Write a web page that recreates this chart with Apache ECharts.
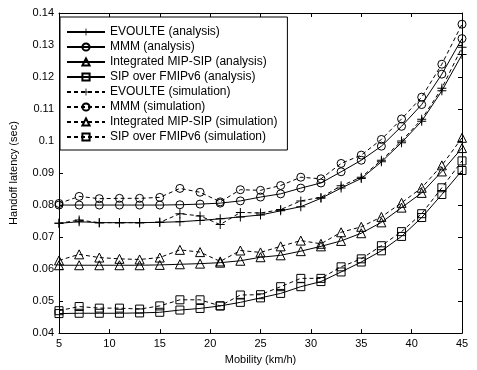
<!DOCTYPE html>
<html>
<head>
<meta charset="utf-8">
<script src="https://cdn.jsdelivr.net/npm/echarts@6/dist/echarts.min.js"></script>
<style>
  html, body { margin: 0; padding: 0; background: #fff; }
  #chart { width: 477px; height: 370px; }
</style>
</head>
<body>
<div id="chart"></div>
<script>
// mobility (km/h)
const mobility = [5, 7, 9, 11, 13, 15, 17, 19, 21, 23, 25, 27, 29, 31, 33, 35, 37, 39, 41, 43, 45]

// handoff latency (sec)
const evoulteAnalysis = [0.0743, 0.0748, 0.0745, 0.0745, 0.0745, 0.0746, 0.0748, 0.0752, 0.0757, 0.0763, 0.0769, 0.0782, 0.0795, 0.0821, 0.0853, 0.0883, 0.0935, 0.0995, 0.1062, 0.1157, 0.1270]
const mmmAnalysis = [0.0800, 0.0800, 0.0800, 0.0800, 0.0800, 0.0800, 0.0801, 0.0803, 0.0806, 0.0813, 0.0825, 0.0835, 0.0853, 0.0869, 0.0904, 0.0940, 0.0984, 0.1046, 0.1114, 0.1209, 0.1320]
const mipSipAnalysis = [0.0612, 0.0612, 0.0612, 0.0612, 0.0612, 0.0613, 0.0615, 0.0617, 0.0620, 0.0626, 0.0637, 0.0643, 0.0656, 0.0671, 0.0688, 0.0712, 0.0746, 0.0792, 0.0838, 0.0905, 0.0978]
const fmipAnalysis = [0.0461, 0.0462, 0.0462, 0.0462, 0.0463, 0.0465, 0.0472, 0.0477, 0.0485, 0.0496, 0.0510, 0.0524, 0.0545, 0.0561, 0.0591, 0.0622, 0.0657, 0.0702, 0.0761, 0.0833, 0.0908]

const evoulteSim = [0.0743, 0.0753, 0.0745, 0.0745, 0.0745, 0.0746, 0.0773, 0.0766, 0.0739, 0.0777, 0.0775, 0.0786, 0.0813, 0.0824, 0.0860, 0.0887, 0.0940, 0.1000, 0.1068, 0.1165, 0.1293]
const mmmSim = [0.0805, 0.0827, 0.0820, 0.0821, 0.0821, 0.0824, 0.0852, 0.0840, 0.0810, 0.0848, 0.0846, 0.0861, 0.0887, 0.0882, 0.0930, 0.0956, 0.1005, 0.1069, 0.1137, 0.1240, 0.1365]
const mipSipSim = [0.0627, 0.0646, 0.0636, 0.0632, 0.0630, 0.0636, 0.0660, 0.0653, 0.0624, 0.0658, 0.0652, 0.0671, 0.0689, 0.0679, 0.0715, 0.0732, 0.0763, 0.0807, 0.0854, 0.0924, 0.1010]
const fmipSim = [0.0470, 0.0483, 0.0478, 0.0478, 0.0475, 0.0485, 0.0504, 0.0504, 0.0485, 0.0519, 0.0520, 0.0545, 0.0571, 0.0571, 0.0607, 0.0632, 0.0673, 0.0717, 0.0773, 0.0854, 0.0938]

const names = [
  'EVOULTE (analysis)', 'MMM (analysis)', 'Integrated MIP-SIP (analysis)', 'SIP over FMIPv6 (analysis)',
  'EVOULTE (simulation)', 'MMM (simulation)', 'Integrated MIP-SIP (simulation)', 'SIP over FMIPv6 (simulation)'
]
const values = [evoulteAnalysis, mmmAnalysis, mipSipAnalysis, fmipAnalysis, evoulteSim, mmmSim, mipSipSim, fmipSim]

// matlab-like markers: '+', 'o', '^', 's' (outlines only)
const plus = 'path://M4.45,0H5.55V4.45H10V5.55H5.55V10H4.45V5.55H0V4.45H4.45Z'
const circle = 'path://M5,0A5,5 0 1 1 5,10A5,5 0 1 1 5,0Z'
const triangle = 'path://M5,0L10,9L0,9Z'
const square = 'path://M0,0H10V10H0Z'
const markers = [plus, circle, triangle, square]
const sizes = [9, 8, 9, 8]

const font = 'Liberation Sans, Arial, sans-serif'

const chart = echarts.init(document.getElementById('chart'))

const series = values.map((v, i) => ({
  name: names[i],
  type: 'line',
  data: mobility.map((x, j) => [x, v[j]]),
  symbol: markers[i % 4],
  symbolSize: sizes[i % 4],
  showAllSymbol: true,
  color: '#000',
  itemStyle: i % 4 === 0
    ? { color: '#000', borderWidth: 0 }
    : { color: 'rgba(0,0,0,0)', borderColor: '#000', borderWidth: 1 },
  lineStyle: { color: '#000', width: 1, type: i < 4 ? 'solid' : [4, 3] },
  emphasis: { disabled: true },
  animation: false,
  z: i < 4 ? 3 : 2
}))

const axisCommon = {
  axisLine: { show: true, lineStyle: { color: '#000', width: 1 } },
  axisTick: { show: true, inside: true, length: 4, lineStyle: { color: '#000' } },
  splitLine: { show: false }
}

chart.setOption({
  backgroundColor: '#fff',
  textStyle: { fontFamily: font },
  grid: { left: 57, right: 15, top: 13, bottom: 33, show: false },
  legend: {
    data: names,
    orient: 'vertical',
    left: 60,
    top: 17,
    padding: [9, 10, 7, 6],
    itemGap: 3,
    itemWidth: 38,
    itemHeight: 9,
    backgroundColor: '#fff',
    borderColor: '#000',
    borderWidth: 1,
    borderRadius: 0,
    textStyle: { color: '#000', fontSize: 12, fontFamily: font }
  },
  xAxis: [
    {
      type: 'value', min: 5, max: 45, interval: 5,
      name: 'Mobility (km/h)', nameLocation: 'middle', nameGap: 18,
      nameTextStyle: { color: '#000', fontSize: 11 },
      axisLabel: { color: '#000', fontSize: 11, margin: 5 },
      ...axisCommon
    },
    {
      type: 'value', min: 5, max: 45, interval: 5, position: 'top',
      axisLabel: { show: false },
      ...axisCommon
    }
  ],
  yAxis: [
    {
      type: 'value', min: 0.04, max: 0.14, interval: 0.01,
      name: 'Handoff latency (sec)', nameLocation: 'middle', nameGap: 40,
      nameTextStyle: { color: '#000', fontSize: 11 },
      axisLabel: { color: '#000', fontSize: 11, margin: 5, formatter: v => String(+v.toFixed(2)) },
      ...axisCommon
    },
    {
      type: 'value', min: 0.04, max: 0.14, interval: 0.01, position: 'right',
      axisLabel: { show: false },
      ...axisCommon
    }
  ],
  series: series
})
</script>
</body>
</html>
